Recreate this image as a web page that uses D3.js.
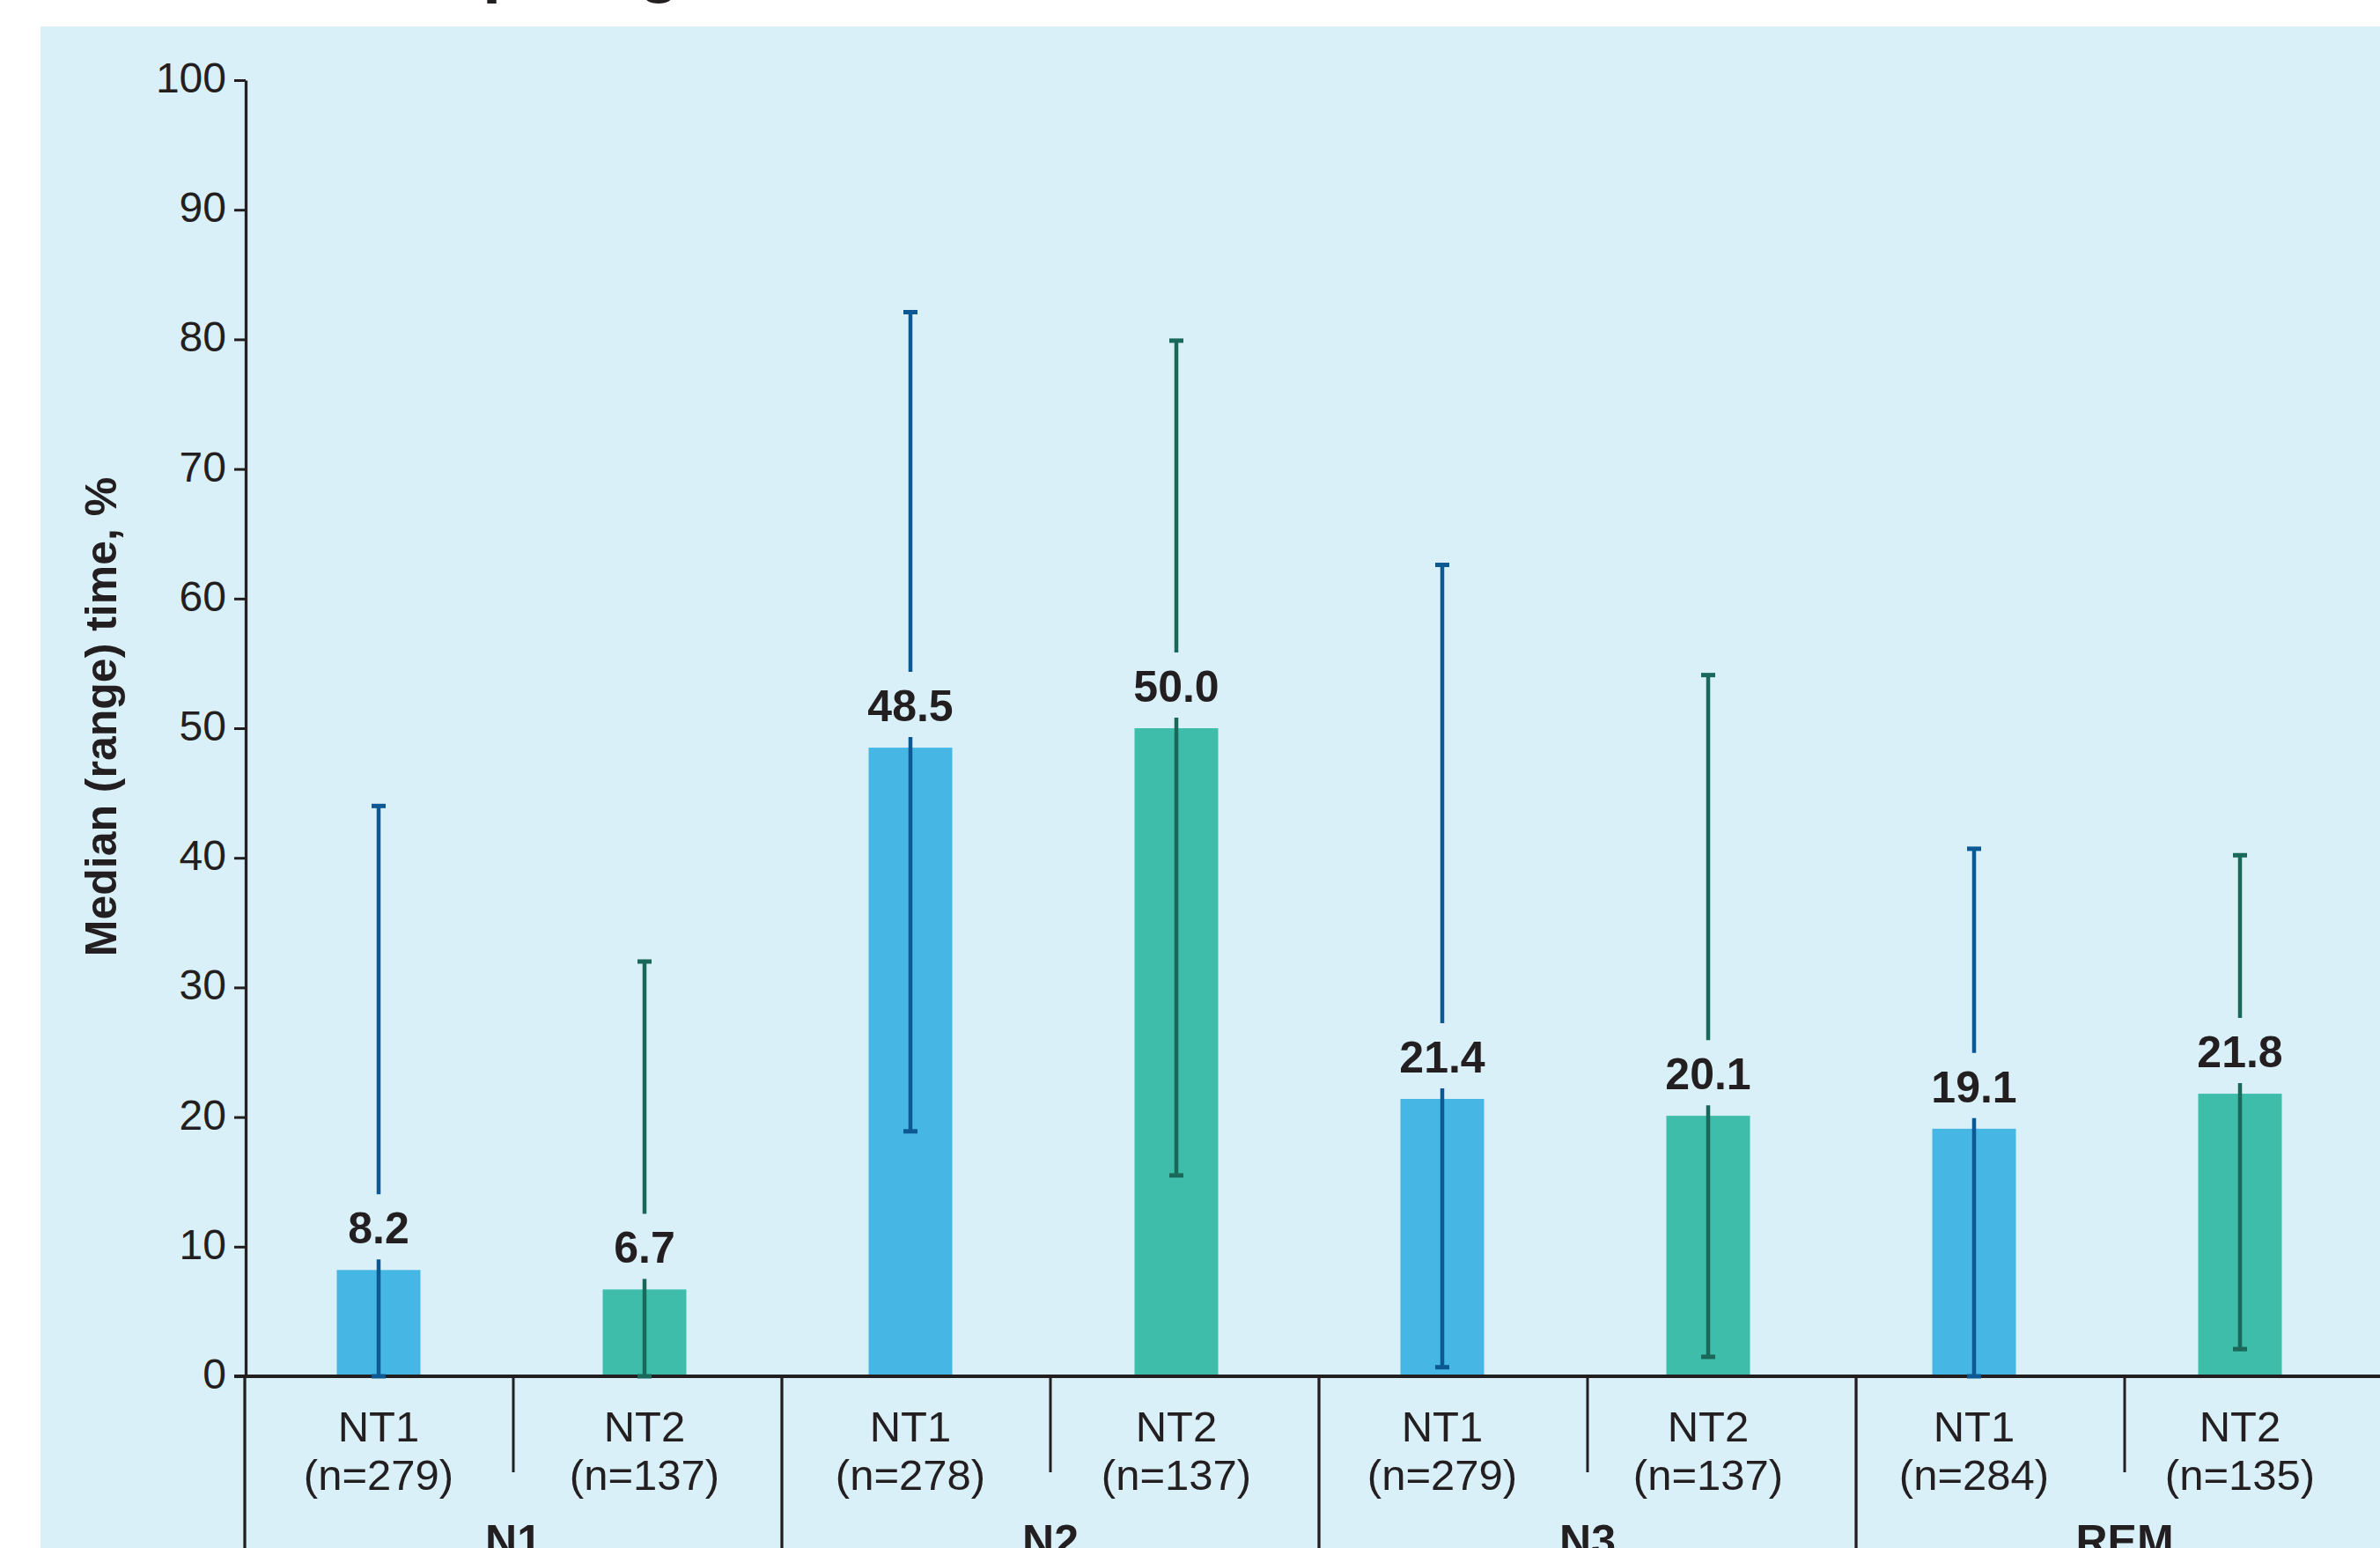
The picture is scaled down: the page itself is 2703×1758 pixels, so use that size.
<!DOCTYPE html>
<html>
<head>
<meta charset="utf-8">
<script src="https://cdn.jsdelivr.net/npm/d3@7"></script>
<style>
  html, body { margin: 0; padding: 0; background: #ffffff; overflow: hidden; }
  svg { display: block; }
  text { font-family: "Liberation Sans", Arial, Helvetica, sans-serif; fill: #231f20; }
</style>
</head>
<body>
<svg id="chart" width="2703" height="1758"></svg>
<script>
// Sleep-stage distribution by narcolepsy type: median bars with min–max range whiskers
const stages = ["N1", "N2", "N3", "REM"];
const cohorts = ["NT1", "NT2"];
const sampleSizes = [279, 137, 278, 137, 279, 137, 284, 135];
const medians = [8.2, 6.7, 48.5, 50.0, 21.4, 20.1, 19.1, 21.8];
const rangeLow = [0, 0, 18.9, 15.5, 0.7, 1.5, 0, 2.1];
const rangeHigh = [44.0, 32.0, 82.1, 79.9, 62.6, 54.1, 40.7, 40.2];
const yTicks = [0, 10, 20, 30, 40, 50, 60, 70, 80, 90, 100];
const yTitle = "Median (range) time, %";
const chartTitle = "Time in each sleep stage";

const rows = medians.map((m, i) => ({
  id: i,
  stage: stages[Math.floor(i / 2)],
  cohort: cohorts[i % 2],
  n: sampleSizes[i],
  median: m,
  low: rangeLow[i],
  high: rangeHigh[i]
}));

const barFill = { NT1: "#46b6e5", NT2: "#3ebdaa" };
const whiskerColor = { NT1: "#0c5892", NT2: "#1a685a" };
const ink = "#231f20";

const W = 2703, H = 1758;
const svg = d3.select("#chart");

// background panel
svg.append("rect")
  .attr("x", 46).attr("y", 30)
  .attr("width", W - 46).attr("height", H - 30)
  .attr("fill", "#daf0f8");

// title (sits above the panel, mostly outside the frame)
const title = svg.append("text")
  .attr("font-weight", 700)
  .attr("font-size", 76)
  .attr("y", -12)
  .text(chartTitle);
const pOffset = title.node().getSubStringLength(0, chartTitle.indexOf("p"));
title.attr("x", 548 - pOffset);

// scales
const y = d3.scaleLinear().domain([0, 100]).range([1563, 91]);
const ids = rows.map(d => d.id);
const xSlot = d3.scaleBand().domain(ids).range([278, 2718]);
const xBar = d3.scaleBand().domain(ids).range([279, 2695])
  .paddingInner(0.6854).paddingOuter(0.3427);
const xStage = d3.scaleBand().domain(stages).range([278, 2718]);
const barCenter = d => xBar(d.id) + xBar.bandwidth() / 2;

// bars
svg.append("g").selectAll("rect")
  .data(rows).join("rect")
  .attr("x", d => xBar(d.id))
  .attr("width", xBar.bandwidth())
  .attr("y", d => y(d.median))
  .attr("height", d => y(0) - y(d.median))
  .attr("fill", d => barFill[d.cohort]);

// y axis
const yAxis = svg.append("g")
  .attr("transform", "translate(279,0)")
  .call(d3.axisLeft(y).tickValues(yTicks).tickSize(13).tickSizeOuter(0).tickPadding(9));
yAxis.select(".domain").attr("stroke", ink).attr("stroke-width", 3.3);
yAxis.selectAll(".tick line").attr("stroke", ink).attr("stroke-width", 3);
yAxis.selectAll(".tick text")
  .attr("font-size", 48)
  .attr("font-family", "'Liberation Sans', Arial, sans-serif")
  .attr("fill", ink)
  .attr("dy", "0.28em");

// y axis title
svg.append("text")
  .attr("transform", "translate(132,814) rotate(-90)")
  .attr("text-anchor", "middle")
  .attr("font-weight", 700)
  .attr("font-size", 50)
  .text(yTitle);

// x baseline
svg.append("line")
  .attr("x1", 266).attr("x2", W)
  .attr("y1", y(0)).attr("y2", y(0))
  .attr("stroke", ink).attr("stroke-width", 4);

// dividers between cohorts within a stage
svg.append("g").selectAll("line")
  .data(rows.filter(d => d.id % 2 === 1)).join("line")
  .attr("x1", d => xSlot(d.id)).attr("x2", d => xSlot(d.id))
  .attr("y1", y(0)).attr("y2", 1672)
  .attr("stroke", ink).attr("stroke-width", 3);

// dividers between stages
svg.append("g").selectAll("line")
  .data(stages).join("line")
  .attr("x1", s => xStage(s)).attr("x2", s => xStage(s))
  .attr("y1", y(0)).attr("y2", H)
  .attr("stroke", ink).attr("stroke-width", 3.3);

// cohort labels
const catLabels = svg.append("g").selectAll("text")
  .data(rows).join("text")
  .attr("text-anchor", "middle")
  .attr("font-size", 49);
catLabels.append("tspan")
  .attr("x", barCenter).attr("y", 1637)
  .text(d => d.cohort);
catLabels.append("tspan")
  .attr("x", barCenter).attr("y", 1692)
  .text(d => `(n=${d.n})`);

// stage labels
svg.append("g").selectAll("text")
  .data(stages).join("text")
  .attr("x", s => xStage(s) + xStage.bandwidth() / 2)
  .attr("y", 1767)
  .attr("text-anchor", "middle")
  .attr("font-weight", 700)
  .attr("font-size", 50)
  .text(s => s);

// range whiskers, broken around the value label
const wg = svg.append("g");
wg.selectAll("line.lower")
  .data(rows).join("line").attr("class", "lower")
  .attr("x1", barCenter).attr("x2", barCenter)
  .attr("y1", d => y(d.low)).attr("y2", d => y(d.median) - 12)
  .attr("stroke", d => whiskerColor[d.cohort]).attr("stroke-width", 4.5);
wg.selectAll("line.upper")
  .data(rows).join("line").attr("class", "upper")
  .attr("x1", barCenter).attr("x2", barCenter)
  .attr("y1", d => y(d.median) - 86).attr("y2", d => y(d.high))
  .attr("stroke", d => whiskerColor[d.cohort]).attr("stroke-width", 4.5);
wg.selectAll("rect.capLow")
  .data(rows).join("rect").attr("class", "capLow")
  .attr("x", d => barCenter(d) - 8).attr("width", 16)
  .attr("y", d => y(d.low) - 2.5).attr("height", 5)
  .attr("fill", d => whiskerColor[d.cohort]);
wg.selectAll("rect.capHigh")
  .data(rows).join("rect").attr("class", "capHigh")
  .attr("x", d => barCenter(d) - 8).attr("width", 16)
  .attr("y", d => y(d.high) - 2.5).attr("height", 5)
  .attr("fill", d => whiskerColor[d.cohort]);

// median value labels
svg.append("g").selectAll("text")
  .data(rows).join("text")
  .attr("x", barCenter)
  .attr("y", d => y(d.median) - 30)
  .attr("text-anchor", "middle")
  .attr("font-weight", 700)
  .attr("font-size", 50)
  .text(d => d.median.toFixed(1));
</script>
</body>
</html>
